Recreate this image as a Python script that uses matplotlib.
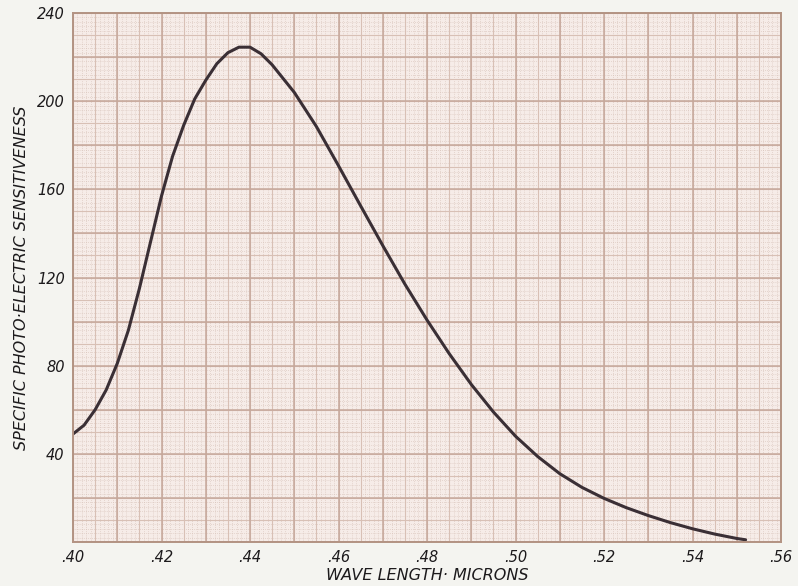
"""
Specific photo-electric sensitiveness against wave length,
redrawn on graph-paper style axes.
"""

import matplotlib

matplotlib.use("Agg")
import matplotlib.pyplot as plt
import numpy as np

# ---------------------------------------------------------------------------
# Data (wave length in microns, sensitiveness)
# ---------------------------------------------------------------------------

WAVE_LENGTH = [
    0.400, 0.4025, 0.405, 0.4075, 0.410, 0.4125, 0.415, 0.4175, 0.420,
    0.4225, 0.425, 0.4275, 0.430, 0.4325, 0.435, 0.4375, 0.440, 0.4425,
    0.445, 0.450, 0.455, 0.460, 0.465, 0.470, 0.475, 0.480, 0.485, 0.490,
    0.495, 0.500, 0.505, 0.510, 0.515, 0.520, 0.525, 0.530, 0.535, 0.540,
    0.545, 0.550, 0.552,
]
SENSITIVENESS = [
    49, 53, 60, 69, 81, 96, 115, 136, 157,
    175, 189, 201, 209.5, 217, 222, 224.5, 224.5, 221.5,
    216.5, 204, 188.5, 170.7, 152.5, 134.5, 117, 100.7, 85.5, 71.5,
    59, 48, 38.8, 31, 24.8, 19.8, 15.6, 12, 8.8, 6,
    3.6, 1.6, 1.0,
]

X_TICKS = [0.40, 0.42, 0.44, 0.46, 0.48, 0.50, 0.52, 0.54, 0.56]
X_TICK_LABELS = [".40", ".42", ".44", ".46", ".48", ".50", ".52", ".54", ".56"]
Y_TICKS = [40, 80, 120, 160, 200, 240]
Y_TICK_LABELS = ["40", "80", "120", "160", "200", "240"]

X_LABEL = "WAVE LENGTH\u00b7 MICRONS"
Y_LABEL = "SPECIFIC PHOTO\u00b7ELECTRIC SENSITIVENESS"

X_MIN, X_MAX = 0.40, 0.56
Y_MIN, Y_MAX = 0.0, 240.0

PAPER = "#f6ece8"
MARGIN = "#f4f4f0"
MAJOR_LINE = "#c6a89b"
MEDIUM_LINE = "#d8c0b5"
FINE_LINE = "#d3bdb4"
CURVE = "#3a2f35"
INK = "#1c1a1c"


def draw_paper_grid(ax):
    """Graph paper: heavy lines every .01 / 20, medium every .005 / 10, fine dots between."""
    fine_x = np.arange(X_MIN, X_MAX + 1e-9, 0.001)
    fine_y = np.arange(Y_MIN, Y_MAX + 1e-9, 2.0)
    ax.vlines(fine_x, Y_MIN, Y_MAX, colors=FINE_LINE, linewidth=0.5,
              linestyles=(0, (1, 2)), zorder=1)
    ax.hlines(fine_y, X_MIN, X_MAX, colors=FINE_LINE, linewidth=0.5,
              linestyles=(0, (1, 2)), zorder=1)

    med_x = np.arange(X_MIN, X_MAX + 1e-9, 0.005)
    med_y = np.arange(Y_MIN, Y_MAX + 1e-9, 10.0)
    ax.vlines(med_x, Y_MIN, Y_MAX, colors=MEDIUM_LINE, linewidth=0.8, zorder=2)
    ax.hlines(med_y, X_MIN, X_MAX, colors=MEDIUM_LINE, linewidth=0.8, zorder=2)

    major_x = np.arange(X_MIN, X_MAX + 1e-9, 0.01)
    major_y = np.arange(Y_MIN, Y_MAX + 1e-9, 20.0)
    ax.vlines(major_x, Y_MIN, Y_MAX, colors=MAJOR_LINE, linewidth=1.1, zorder=3)
    ax.hlines(major_y, X_MIN, X_MAX, colors=MAJOR_LINE, linewidth=1.1, zorder=3)


def main():
    fig = plt.figure(figsize=(7.98, 5.86), dpi=100, facecolor=MARGIN)
    ax = fig.add_axes([0.0915, 0.0751, 0.8872, 0.9027])
    ax.set_facecolor(PAPER)

    draw_paper_grid(ax)

    ax.plot(WAVE_LENGTH, SENSITIVENESS, color=CURVE, linewidth=2.2,
            solid_capstyle="round", solid_joinstyle="round", zorder=5)

    ax.set_xlim(X_MIN, X_MAX)
    ax.set_ylim(Y_MIN, Y_MAX)

    hand = dict(family=["DejaVu Sans"], style="italic", color=INK)
    ax.set_xticks(X_TICKS)
    ax.set_xticklabels(X_TICK_LABELS, fontsize=10.5, **hand)
    ax.set_yticks(Y_TICKS)
    ax.set_yticklabels(Y_TICK_LABELS, fontsize=10.5, **hand)
    ax.tick_params(length=0, pad=6)

    ax.set_xlabel(X_LABEL, fontsize=11.5, labelpad=2, **hand)
    ax.set_ylabel(Y_LABEL, fontsize=11.5, labelpad=6, **hand)

    for spine in ax.spines.values():
        spine.set_color("#b39383")
        spine.set_linewidth(1.4)
        spine.set_zorder(6)

    fig.savefig("out.png", dpi=100, facecolor=MARGIN)
    plt.close(fig)


if __name__ == "__main__":
    main()
